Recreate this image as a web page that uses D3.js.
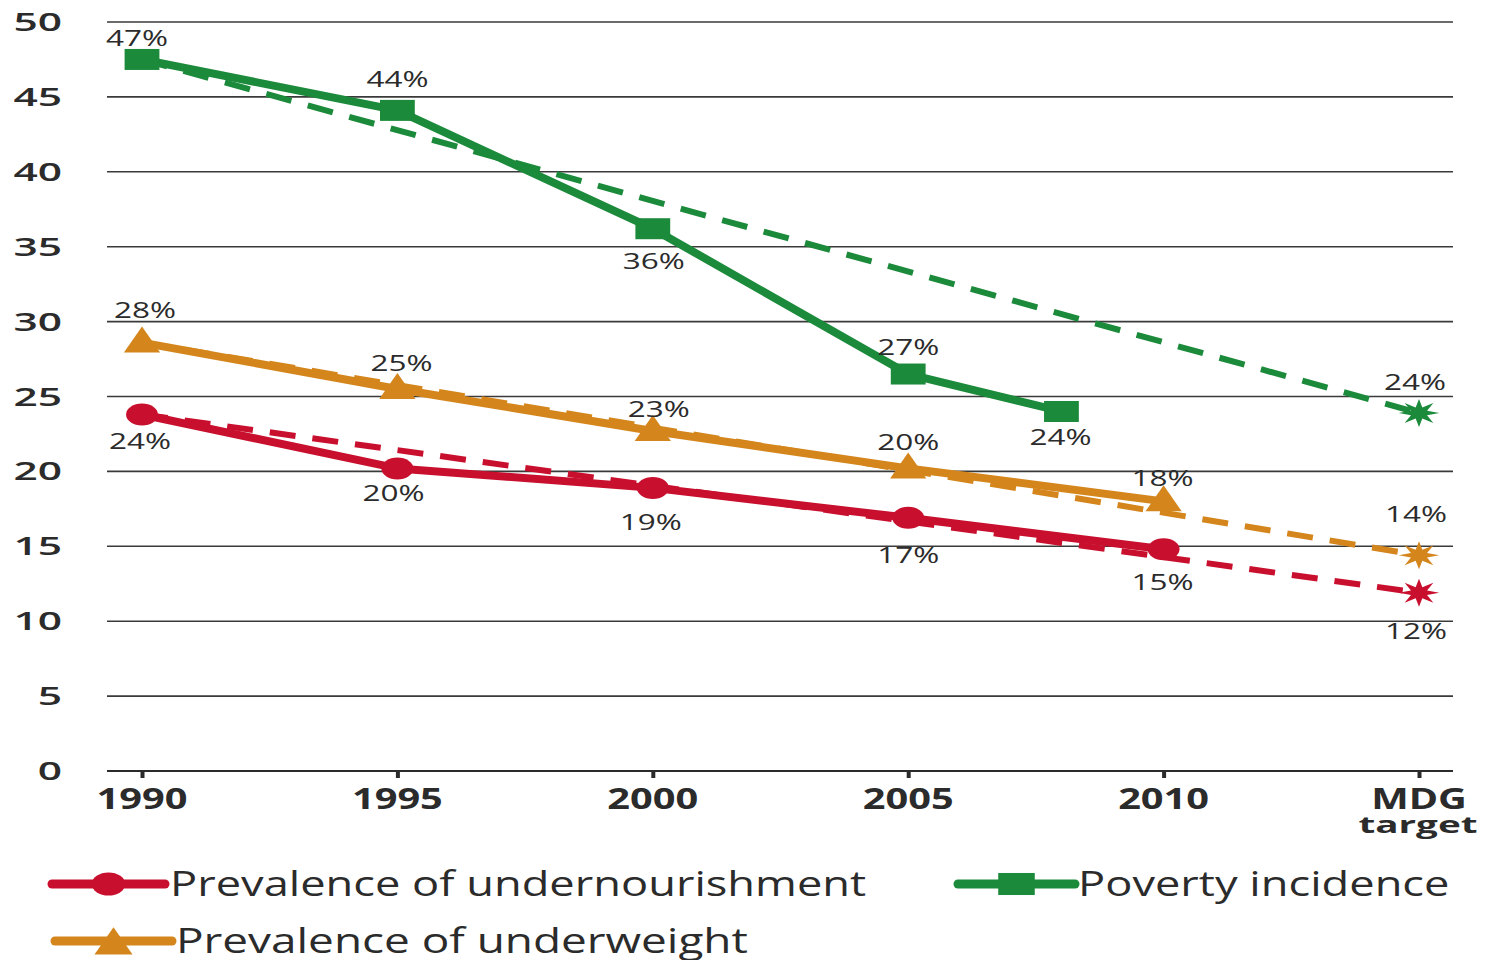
<!DOCTYPE html>
<html>
<head>
<meta charset="utf-8">
<script src="https://cdn.jsdelivr.net/npm/d3@7"></script>
<style>
  body { margin: 0; background: #fff; }
  svg { display: block; font-family: "Open Sans", sans-serif; }
</style>
</head>
<body>
<div id="chart"></div>
<script>
// data
const years = [1990, 1995, 2000, 2005, 2010];
const undernourishment = [23.8, 20.2, 18.9, 16.9, 14.8];
const underweight = [28.6, 25.5, 22.7, 20.2, 18.0];
const povertyYears = [1990, 1995, 2000, 2005, 2008];
const poverty = [47.5, 44.1, 36.2, 26.5, 24.0];
const targetYear = 2015; // "MDG target" slot
const targets = { undernourishment: 11.9, underweight: 14.4, poverty: 23.9 };
const undernourishmentLabels = ["24%", "20%", "19%", "17%", "15%"];
const underweightLabels = ["28%", "25%", "23%", "20%", "18%"];
const povertyLabels = ["47%", "44%", "36%", "27%", "24%"];
const targetLabels = { undernourishment: "12%", underweight: "14%", poverty: "24%" };
const yTicks = [0, 5, 10, 15, 20, 25, 30, 35, 40, 45, 50];
const xTicks = [1990, 1995, 2000, 2005, 2010, 2015];
const xTickLabels = ["1990", "1995", "2000", "2005", "2010", "MDG"];

const W = 1485, H = 960;
const col = { red: "#c8102e", orange: "#d4861c", green: "#1b8a3a", text: "#2b2b2b" };

const svg = d3.select("#chart").append("svg").attr("width", W).attr("height", H);

const x = d3.scaleLinear().domain([1990, targetYear]).range([142, 1419]);
const y = d3.scaleLinear().domain([0, 50]).range([771, 22]);

// stretched text helper (the original is drawn wide)
function txt(g, px, py, s, size, sx, anchor, weight) {
  return g.append("text")
    .attr("transform", "translate(" + px + "," + py + ") scale(" + sx + ",1)")
    .attr("text-anchor", anchor || "middle")
    .attr("font-size", size)
    .attr("font-weight", weight || 400)
    .attr("fill", col.text)
    .text(s);
}

// grid
const grid = svg.append("g");
grid.selectAll("line").data(yTicks.filter(d => d > 0)).enter().append("line")
  .attr("x1", 107).attr("x2", 1453)
  .attr("y1", d => y(d)).attr("y2", d => y(d))
  .attr("stroke", "#3a3a3a").attr("stroke-width", 1.6);

// y labels
yTicks.forEach(d => txt(svg, 62, y(d) + 9, String(d), 25, 1.7, "end", 600));

// x axis
const xAxis = svg.append("g").attr("transform", "translate(0," + y(0) + ")")
  .call(d3.axisBottom(x).tickValues(xTicks).tickSize(7).tickSizeOuter(0).tickFormat(""));
xAxis.select(".domain").attr("stroke", "#2b2b2b").attr("stroke-width", 2.2)
  .attr("d", "M107,0H1453");
xAxis.selectAll(".tick line").attr("stroke", "#2b2b2b").attr("stroke-width", 4);
xTicks.forEach((d, i) => txt(svg, x(d), y(0) + 38, xTickLabels[i], 28, 1.42, "middle", 700));
txt(svg, x(targetYear) - 1, y(0) + 62, "target", 23, 1.68, "middle", 700);

// markers
function star(r1, r2, n) {
  const pts = [];
  for (let i = 0; i < n * 2; i++) {
    const r = i % 2 ? r2 : r1, a = Math.PI * i / n - Math.PI / 2;
    pts.push([Math.cos(a) * r, Math.sin(a) * r]);
  }
  return "M" + pts.join("L") + "Z";
}
function marker(g, kind, px, py, color, k) {
  k = k || 1;
  const m = g.append("g").attr("transform", "translate(" + px + "," + py + ") scale(" + (1.45 * k) + "," + k + ")")
    .attr("fill", color);
  if (kind === "circle") m.append("circle").attr("r", 11);
  if (kind === "square") m.append("rect").attr("x", -12).attr("y", -10.5).attr("width", 24).attr("height", 21);
  if (kind === "triangle") m.append("path").attr("d", "M0,-16L12.5,10L-12.5,10Z");
  if (kind === "star") m.append("path").attr("d", star(14, 6, 8));
}

const line = d3.line().x(d => x(d[0])).y(d => y(d[1]));

// label offsets (px from the point): [dx, dy baseline]
const series = [
  { key: "undernourishment", color: col.red, yrs: years, vals: undernourishment, labels: undernourishmentLabels,
    kind: "circle", off: [[-2, 35], [-4, 33], [-2, 42], [0, 45], [-1, 41]], toff: [-3, 46] },
  { key: "underweight", color: col.orange, yrs: years, vals: underweight, labels: underweightLabels,
    kind: "triangle", off: [[3, -25], [4, -18], [6, -14], [0, -18], [-1, -15]], toff: [-3, -33] },
  { key: "poverty", color: col.green, yrs: povertyYears, vals: poverty, labels: povertyLabels,
    kind: "square", off: [[-5, -13], [0, -23], [1, 40], [0, -19], [-1, 34]], toff: [-4, -23] }
];

// dashed target paths first
series.forEach(s => {
  svg.append("path")
    .attr("d", line([[s.yrs[0], s.vals[0]], [targetYear, targets[s.key]]]))
    .attr("fill", "none").attr("stroke", s.color).attr("stroke-width", 6)
    .attr("stroke-dasharray", "26 17");
});

series.forEach(s => {
  const pts = s.yrs.map((d, i) => [d, s.vals[i]]);
  svg.append("path").attr("d", line(pts))
    .attr("fill", "none").attr("stroke", s.color).attr("stroke-width", 8)
    .attr("stroke-linejoin", "round");
  pts.forEach(p => marker(svg, s.kind, x(p[0]), y(p[1]), s.color));
  marker(svg, "star", x(targetYear), y(targets[s.key]), s.color);
});

// value labels
series.forEach(s => {
  s.yrs.forEach((d, i) => {
    txt(svg, x(d) + s.off[i][0], y(s.vals[i]) + s.off[i][1], s.labels[i], 21, 1.5, "middle", 500);
  });
  txt(svg, x(targetYear) + s.toff[0], y(targets[s.key]) + s.toff[1], targetLabels[s.key], 21, 1.5, "middle", 500);
});

// legend
const legend = [
  { name: "Prevalence of undernourishment", color: col.red, kind: "circle", x0: 52, x1: 165, tx: 170, cy: 884 },
  { name: "Poverty incidence", color: col.green, kind: "square", x0: 958, x1: 1075, tx: 1078, cy: 884 },
  { name: "Prevalence of underweight", color: col.orange, kind: "triangle", x0: 55, x1: 172, tx: 176, cy: 941 }
];
legend.forEach(l => {
  svg.append("line").attr("x1", l.x0).attr("x2", l.x1).attr("y1", l.cy).attr("y2", l.cy)
    .attr("stroke", l.color).attr("stroke-width", 9).attr("stroke-linecap", "round");
  marker(svg, l.kind, (l.x0 + l.x1) / 2, l.cy + (l.kind === "triangle" ? 3 : 0), l.color, 1.05);
  txt(svg, l.tx, l.cy + 12, l.name, 34, l.kind === "triangle" ? 1.35 : 1.33, "start");
});
</script>
</body>
</html>
